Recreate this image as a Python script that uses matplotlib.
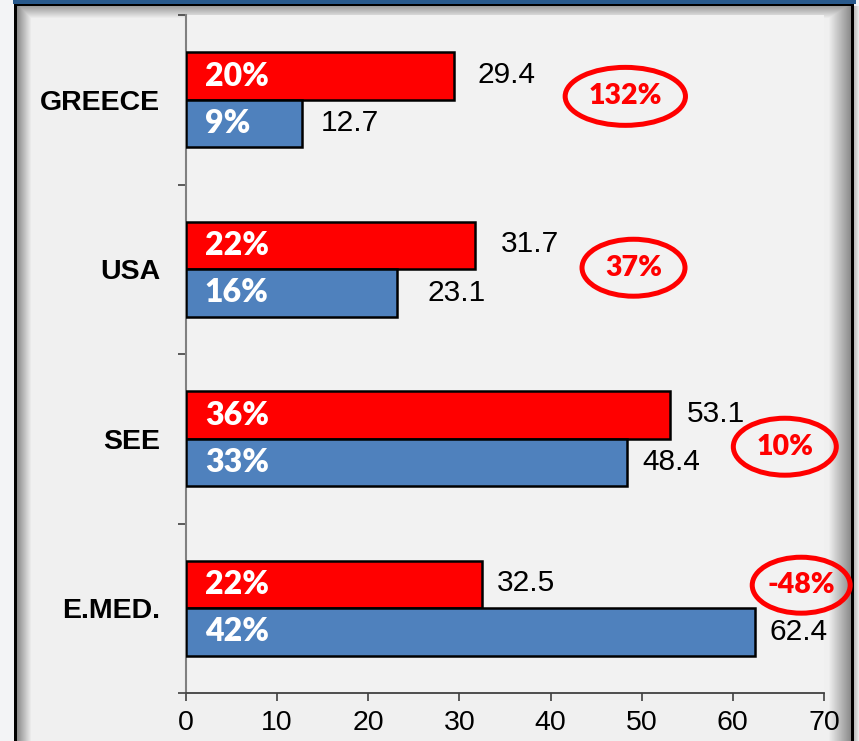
import numpy as np
import matplotlib
matplotlib.use("Agg")
import matplotlib.pyplot as plt
from matplotlib.patches import Ellipse

# ---- data ----
categories = ["GREECE", "USA", "SEE", "E.MED."]
red_values = [29.4, 31.7, 53.1, 32.5]
blue_values = [12.7, 23.1, 48.4, 62.4]
red_shares = ["20%", "22%", "36%", "22%"]
blue_shares = ["9%", "16%", "33%", "42%"]
growth_labels = ["132%", "37%", "10%", "-48%"]
x_ticks = [0, 10, 20, 30, 40, 50, 60, 70]

# ---- styling (positions / sizes) ----
red_label_pad_px = [24, 26, 17, 15]
blue_label_pad_px = [19, 31, 15, 15]
ell_x = [48.2, 49.1, 65.7, 67.5]
ell_dy = [-0.02, -0.009, 0.047, -0.136]
ell_w = [13.2, 11.3, 11.3, 10.75]
ell_h = [0.342, 0.336, 0.336, 0.330]

W, H = 859, 741
fig = plt.figure(figsize=(W / 100, H / 100), dpi=100)
fig.patch.set_facecolor("#f3f4f6")

# ---- background frame (slide panel) ----
bg = np.ones((H, W, 3)) * np.array([0.955, 0.958, 0.965])
panel = np.array([0.945, 0.945, 0.945])
x0, x1, y0 = 17, 851, 6
bg[y0:, x0:x1] = panel
for i in range(14):
    t = i / 14
    c = 0.55 + (0.945 - 0.55) * t
    bg[y0:, x0 + i] = np.minimum(bg[y0:, x0 + i], c)
for i in range(12):
    t = i / 12
    c = 0.62 + (0.945 - 0.62) * t
    bg[y0 + i, x0:x1] = np.minimum(bg[y0 + i, x0:x1], c)
for i in range(22):
    t = i / 22
    c = 0.55 + (0.945 - 0.55) * t
    bg[y0:, x1 - 1 - i] = np.minimum(bg[y0:, x1 - 1 - i], c)
bg[y0 - 2:y0, 14:x1 + 3] = 0.0
bg[y0 - 2:, 14:x0] = 0.0
bg[y0 - 2:, x1:x1 + 3] = 0.0
bg[0:y0 - 2, 13:W - 3] = np.array([0.16, 0.35, 0.55])
for i in range(5):
    bg[y0:, x1 + 3 + i] = 0.75 + 0.04 * i

bgax = fig.add_axes([0, 0, 1, 1], zorder=-10)
bgax.imshow(bg, aspect="auto", interpolation="nearest")
bgax.axis("off")

# ---- main axes ----
left, right, top, bottom = 186, 824, 15, 693
ax = fig.add_axes([left / W, 1 - bottom / H, (right - left) / W, (bottom - top) / H])
ax.set_facecolor("#f2f2f2")

y = np.arange(len(categories))
bh = 0.28
ax.barh(y - bh / 2, red_values, height=bh, color="#ff0000", edgecolor="black", linewidth=1.8, zorder=3)
ax.barh(y + bh / 2, blue_values, height=bh, color="#4f81bd", edgecolor="black", linewidth=1.8, zorder=3)

ax.set_xlim(0, 70)
ax.set_ylim(3.5, -0.5)

arial = "Liberation Sans"
pctfont = ["Lato", "DejaVu Sans"]

for i in range(len(categories)):
    ax.annotate(f"{red_values[i]:.1f}", xy=(red_values[i], y[i] - bh / 2),
                xytext=(red_label_pad_px[i] * 0.72, 1), textcoords="offset points",
                ha="left", va="center", fontsize=21.5, family=arial, color="black")
    ax.annotate(f"{blue_values[i]:.1f}", xy=(blue_values[i], y[i] + bh / 2),
                xytext=(blue_label_pad_px[i] * 0.72, 0), textcoords="offset points",
                ha="left", va="center", fontsize=21.5, family=arial, color="black")
    ax.annotate(red_shares[i], xy=(0, y[i] - bh / 2), xytext=(13.5, 0), textcoords="offset points",
                ha="left", va="center", fontsize=23, family=pctfont, fontweight="heavy",
                color="white", zorder=5)
    ax.annotate(blue_shares[i], xy=(0, y[i] + bh / 2), xytext=(13.5, 0), textcoords="offset points",
                ha="left", va="center", fontsize=23, family=pctfont, fontweight="heavy",
                color="white", zorder=5)
    e = Ellipse((ell_x[i], y[i] + ell_dy[i]), ell_w[i], ell_h[i], fill=False,
                edgecolor="#ff0000", linewidth=3.6, clip_on=False, zorder=6)
    ax.add_patch(e)
    ax.text(ell_x[i], y[i] + ell_dy[i], growth_labels[i], ha="center", va="center",
            fontsize=20.5, family=pctfont, fontweight="heavy", color="#ff0000", zorder=7,
            clip_on=False)

ax.set_xticks(x_ticks)
ax.set_xticklabels([str(v) for v in x_ticks], fontsize=20.5, family=arial)
ax.tick_params(axis="x", direction="out", length=6, width=1.2, color="#404040", pad=6)
ax.set_yticks(y)
ax.set_yticklabels(categories, fontsize=20.5, family=arial, fontweight="bold")
ax.tick_params(axis="y", which="major", length=0, pad=18.5)
ax.set_yticks(np.arange(-0.5, len(categories), 1.0), minor=True)
ax.tick_params(axis="y", which="minor", direction="out", length=6, width=1.2, color="#404040")

for s in ["top", "right"]:
    ax.spines[s].set_visible(False)
ax.spines["left"].set_color("#808080")
ax.spines["left"].set_linewidth(1.5)
ax.spines["bottom"].set_color("#404040")
ax.spines["bottom"].set_linewidth(1.3)

fig.savefig("out.png", dpi=100)
